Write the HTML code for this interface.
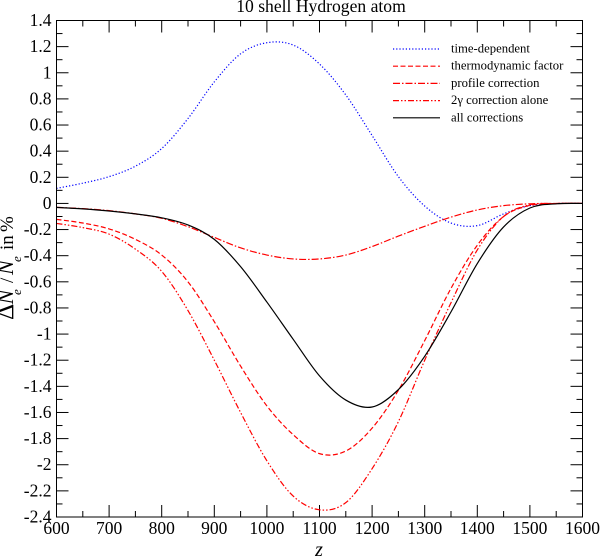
<!DOCTYPE html>
<html><head><meta charset="utf-8"><title>10 shell Hydrogen atom</title>
<style>
html,body{margin:0;padding:0;background:#fff;}
svg{display:block;font-family:"Liberation Serif",serif;}
</style></head>
<body>
<svg id="chart" width="600" height="557" viewBox="0 0 600 557" xmlns="http://www.w3.org/2000/svg">
<rect width="600" height="557" fill="#fff"/>
<text x="321" y="12" text-anchor="middle" font-size="17.6">10 shell Hydrogen atom</text>
<g id="ticks"></g>
<g id="series"></g>
<rect x="56.5" y="20.5" width="526" height="496.5" fill="none" stroke="#000" stroke-width="1"/>
<g id="labels" font-size="17.5"></g>
<text x="319" y="556" text-anchor="middle" font-size="20" font-style="italic">z</text>
<g transform="translate(13,320) rotate(-90)" font-size="19">
<text><tspan x="0" y="0" font-size="25">&#916;</tspan><tspan x="15.5" y="0" font-size="22" font-style="italic">N</tspan><tspan x="25" y="8" font-size="13" font-style="italic">e</tspan><tspan x="37" y="0">/</tspan><tspan x="45" y="0" font-size="22" font-style="italic">N</tspan><tspan x="58" y="8" font-size="13" font-style="italic">e</tspan><tspan x="70" y="0">in</tspan><tspan x="88" y="0">%</tspan></text>
</g>
<g id="legend" font-size="12.7"></g>
</svg>
<script>
const zValues = [600,650,700,750,800,850,900,950,1000,1050,1100,1150,1200,1250,1300,1350,1400,1450,1500,1550,1600];
const timeDependent = [0.115,0.155,0.205,0.285,0.42,0.65,0.93,1.145,1.23,1.212,1.067,0.83,0.52,0.205,-0.02,-0.15,-0.17,-0.08,-0.017,-0.001,0];
const thermodynamic = [-0.122,-0.15,-0.195,-0.275,-0.395,-0.6,-0.905,-1.245,-1.55,-1.77,-1.915,-1.895,-1.72,-1.43,-1.05,-0.65,-0.32,-0.1,-0.015,-0.001,0];
const profile = [-0.03,-0.04,-0.055,-0.08,-0.114,-0.178,-0.26,-0.34,-0.395,-0.425,-0.425,-0.395,-0.33,-0.25,-0.175,-0.105,-0.05,-0.017,-0.003,0,0];
const gammaAlone = [-0.153,-0.185,-0.235,-0.35,-0.52,-0.82,-1.2,-1.6,-1.97,-2.24,-2.345,-2.29,-2.03,-1.67,-1.2,-0.76,-0.356,-0.1,-0.01,-0.001,0];
const allCorrections = [-0.03,-0.042,-0.058,-0.08,-0.11,-0.165,-0.275,-0.484,-0.755,-1.04,-1.32,-1.505,-1.558,-1.425,-1.17,-0.83,-0.46,-0.18,-0.035,-0.003,0];
const xTickLabels = ["600","700","800","900","1000","1100","1200","1300","1400","1500","1600"];
const yTickLabels = ["1.4","1.2","1","0.8","0.6","0.4","0.2","0","-0.2","-0.4","-0.6","-0.8","-1","-1.2","-1.4","-1.6","-1.8","-2","-2.2","-2.4"];
const xMinorTicks = [650,750,850,950,1050,1150,1250,1350,1450,1550];
const yMinorTicks = [1.3,1.1,0.9,0.7,0.5,0.3,0.1,-0.1,-0.3,-0.5,-0.7,-0.9,-1.1,-1.3,-1.5,-1.7,-1.9,-2.1,-2.3];
const legendLabels = ["time-dependent","thermodynamic factor","profile correction","2\u03B3 correction alone","all corrections"];

const NS = 'http://www.w3.org/2000/svg';
const PLOT = {left:56.5,right:582.5,top:20.5,bottom:517};
function xScale(z){return PLOT.left+(z-600)/1000*(PLOT.right-PLOT.left);}
function yScale(v){return PLOT.top+(1.4-v)/3.8*(PLOT.bottom-PLOT.top);}

function tickLine(parent,x1,y1,x2,y2){
  const l=document.createElementNS(NS,'line');
  l.setAttribute('x1',x1);l.setAttribute('y1',y1);l.setAttribute('x2',x2);l.setAttribute('y2',y2);
  l.setAttribute('stroke','#000');l.setAttribute('stroke-width','1');
  
  
  parent.appendChild(l);
}
const ticksG=document.getElementById('ticks');
const labelsG=document.getElementById('labels');
function addLabel(x,y,anchor,s){
  const t=document.createElementNS(NS,'text');
  t.setAttribute('x',x);t.setAttribute('y',y);t.setAttribute('text-anchor',anchor);
  t.textContent=s;
  
  
  labelsG.appendChild(t);
}
xTickLabels.forEach(s=>{
  const x=xScale(parseFloat(s));
  tickLine(ticksG,x,PLOT.bottom,x,PLOT.bottom-12);
  tickLine(ticksG,x,PLOT.top,x,PLOT.top+12);
  addLabel(x,534,'middle',s);
});
xMinorTicks.forEach(z=>{
  const x=xScale(z);
  tickLine(ticksG,x,PLOT.bottom,x,PLOT.bottom-6);
  tickLine(ticksG,x,PLOT.top,x,PLOT.top+6);
});
yTickLabels.forEach(s=>{
  const y=yScale(parseFloat(s));
  tickLine(ticksG,PLOT.left,y,PLOT.left+12,y);
  tickLine(ticksG,PLOT.right,y,PLOT.right-12,y);
  addLabel(51.5,y+5.5,'end',s);
});
yMinorTicks.forEach(v=>{
  const y=yScale(v);
  tickLine(ticksG,PLOT.left,y,PLOT.left+6,y);
  tickLine(ticksG,PLOT.right,y,PLOT.right-6,y);
});

function smoothPath(values){
  const p=values.map((v,i)=>[xScale(zValues[i]),yScale(v)]);
  let d='M'+p[0][0].toFixed(2)+' '+p[0][1].toFixed(2);
  for(let i=0;i<p.length-1;i++){
    const a=p[Math.max(i-1,0)],b=p[i],c=p[i+1],e=p[Math.min(i+2,p.length-1)];
    const c1=[b[0]+(c[0]-a[0])/6,b[1]+(c[1]-a[1])/6];
    const c2=[c[0]-(e[0]-b[0])/6,c[1]-(e[1]-b[1])/6];
    d+='C'+c1[0].toFixed(2)+' '+c1[1].toFixed(2)+' '+c2[0].toFixed(2)+' '+c2[1].toFixed(2)+' '+c[0].toFixed(2)+' '+c[1].toFixed(2);
  }
  return d;
}
const seriesG=document.getElementById('series');
const legendG=document.getElementById('legend');
const STYLES=[
  {c:'#00f',dash:'1.2 2'},
  {c:'#f00',dash:'5 2.5'},
  {c:'#f00',dash:'7 2 1.5 2'},
  {c:'#f00',dash:'6 2 1.5 2 1.5 2'},
  {c:'#000',dash:''}
];
[timeDependent,thermodynamic,profile,gammaAlone,allCorrections].forEach((vals,i)=>{
  const st=STYLES[i];
  const path=document.createElementNS(NS,'path');
  path.setAttribute('d',smoothPath(vals));
  path.setAttribute('fill','none');
  path.setAttribute('stroke',st.c);
  path.setAttribute('stroke-width','1.2');
  if(st.dash)path.setAttribute('stroke-dasharray',st.dash);
  
  
  seriesG.appendChild(path);
  const ly=49+17.2*i;
  const ln=document.createElementNS(NS,'line');
  ln.setAttribute('x1',393);ln.setAttribute('x2',440);ln.setAttribute('y1',ly);ln.setAttribute('y2',ly);
  ln.setAttribute('stroke',st.c);ln.setAttribute('stroke-width','1.2');
  if(st.dash)ln.setAttribute('stroke-dasharray',st.dash);
  
  
  legendG.appendChild(ln);
  const tx=document.createElementNS(NS,'text');
  tx.setAttribute('x',451);tx.setAttribute('y',ly+3.5);
  tx.textContent=legendLabels[i];
  
  
  legendG.appendChild(tx);
});
</script>
</body></html>
